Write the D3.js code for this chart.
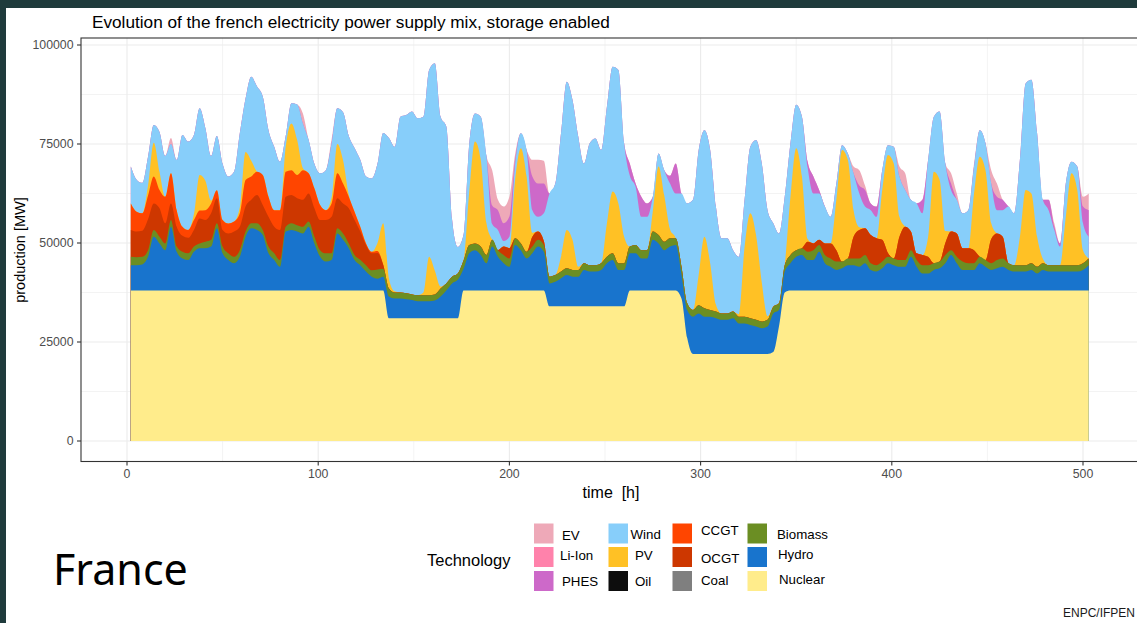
<!DOCTYPE html>
<html>
<head>
<meta charset="utf-8">
<script src="https://cdn.jsdelivr.net/npm/d3@7"></script>
<style>
  html, body { margin: 0; padding: 0; background: #1f3b3c; }
  svg { display: block; }
  text { font-family: "Liberation Sans", Arial, sans-serif; }
</style>
</head>
<body>
<svg id="chart" width="1137" height="623"></svg>
<script>
// Hourly time grid of the simulation (one sample every 3 h)
const hours = d3.range(2, 504, 3);

// Production per technology, MW
const nuclear = [
  38000,38000,38000,38000,38000,38000,38000,38000,38000,38000,38000,38000,
  38000,38000,38000,38000,38000,38000,38000,38000,38000,38000,38000,38000,
  38000,38000,38000,38000,38000,38000,38000,38000,38000,38000,38000,38000,
  38000,38000,38000,38000,38000,38000,38000,38000,38000,31000,31000,31000,
  31000,31000,31000,31000,31000,31000,31000,31000,31000,31000,38000,38000,
  38000,38000,38000,38000,38000,38000,38000,38000,38000,38000,38000,38000,
  38000,34000,34000,34000,34000,34000,34000,34000,34000,34000,34000,34000,
  34000,34000,34000,38000,38000,38000,38000,38000,38000,38000,38000,38000,
  36000,26000,22000,22000,22000,22000,22000,22000,22000,22000,22000,22000,
  22000,22000,22000,22000,22500,29000,37500,38000,38000,38000,38000,38000,
  38000,38000,38000,38000,38000,38000,38000,38000,38000,38000,38000,38000,
  38000,38000,38000,38000,38000,38000,38000,38000,38000,38000,38000,38000,
  38000,38000,38000,38000,38000,38000,38000,38000,38000,38000,38000,38000,
  38000,38000,38000,38000,38000,38000,38000,38000,38000,38000,38000,38000
];
const hydro = [
  6400,6400,6600,8500,13600,11900,10200,16100,9800,8100,7700,9800,
  10700,10700,11100,15700,9400,7700,6900,8500,13600,15700,15300,14000,
  9400,7700,6000,14900,15300,14900,14400,16100,11900,8500,7300,7700,
  14400,12800,10700,7700,6400,4800,3500,3000,3500,5500,5000,5000,
  4800,4600,4300,4300,4300,4500,5500,7000,8800,9700,5500,9400,
  10200,9000,6900,11100,8500,6900,6000,11500,10200,8100,9400,11100,
  9800,5800,6200,7100,7900,7500,7500,9200,8800,8800,9200,10900,
  11700,9200,9200,9400,9400,8100,8100,12800,11900,10200,11100,11500,
  6000,7100,9400,10200,9400,9400,9000,8600,8600,9000,7700,7700,
  7300,6900,6500,6900,9700,4100,5300,6900,8500,9000,7700,7700,
  9800,6900,6000,5200,5600,6400,6400,6000,6900,5200,4800,5600,
  6900,6400,6000,6000,8500,6000,4300,4300,5200,5600,6900,9000,
  6900,5200,5200,5200,6900,6000,5200,5600,6000,5200,4800,4800,
  4800,5200,4300,5200,4800,4800,4800,4800,4800,4800,5200,6400
];
const biomass = [
  2100,2000,1900,1700,1700,1700,1700,1700,1300,1700,1700,1300,
  1200,1600,1700,1300,1700,1700,1600,1700,1300,1300,1700,1300,
  1700,1700,1700,1200,1700,1600,1700,1300,1700,1700,2100,1700,
  1300,1600,1200,1300,1400,1600,1600,2300,2000,2000,1500,1500,
  1500,1400,1500,1500,1500,1500,2000,1800,1700,1600,2000,2100,
  1700,2100,2100,1700,1700,2100,2100,1700,1700,1700,1700,1700,
  1700,1700,1700,1700,1700,1700,1700,1700,1600,1600,1700,1600,
  1700,1700,1700,1700,2100,2100,2100,2100,2100,2100,2100,1700,
  2000,1700,1700,2100,2100,1700,1700,1600,1600,1700,1700,1700,
  1700,1700,1700,1700,1700,1700,1600,2100,1700,1700,2100,2500,
  1700,2100,2100,2100,1700,1700,1700,2100,2100,1700,1600,1700,
  1600,1700,1700,1700,1700,1700,2100,2100,1700,1700,2100,1200,
  1600,2100,1700,1700,1600,1700,1700,2100,2100,1700,1600,1600,
  1600,1700,1700,1700,1600,1600,1600,1600,1600,1600,1700,1700
];
const ocgt = [
  6800,6500,6600,7800,6700,7200,5100,4200,5000,4000,3900,4200,
  6300,5500,6700,6300,4200,5000,6400,5900,6300,5900,7100,6300,
  7500,6700,7600,7600,7100,6800,6800,7100,7200,7600,8400,9200,
  7600,7600,8900,8800,7100,5100,4300,4200,1000,0,0,0,
  0,0,0,0,0,0,0,0,0,0,0,0,
  0,0,0,0,0,2100,2600,0,0,0,2500,2100,
  1000,0,0,0,0,0,0,0,0,0,0,0,
  0,0,0,0,0,0,0,0,0,0,0,0,
  0,0,0,0,0,0,0,0,0,0,0,0,
  0,0,0,0,0,0,0,0,0,0,2500,1700,
  1300,2900,3800,2900,0,0,5500,7200,6700,7100,6800,5500,
  1000,0,5900,8400,4700,1700,2600,2100,0,0,3000,4700,
  5900,3400,3800,3300,0,0,6100,6700,5500,0,0,0,
  0,0,0,0,0,0,0,0,0,0,0,0
];
const ccgt = [
  6700,5000,4400,6000,6800,4600,6700,7600,4200,2300,2000,2500,
  2000,2500,2500,2000,2500,2500,2500,3400,6700,5900,5900,7600,
  5100,4200,5000,6300,6300,5900,7500,5100,5000,3800,2500,3400,
  6300,5000,2900,2100,1200,400,400,500,0,0,0,0,
  0,0,0,0,0,0,0,0,0,0,0,0,
  0,0,0,0,0,0,0,0,0,0,0,0,
  0,0,0,0,0,0,0,0,0,0,0,0,
  0,0,0,0,0,0,0,0,0,0,0,0,
  0,0,0,0,0,0,0,0,0,0,0,0,
  0,0,0,0,0,0,0,0,0,0,0,0,
  0,0,0,0,0,0,0,0,0,0,0,0,
  0,0,0,0,0,0,0,0,0,0,0,0,
  0,0,0,0,0,0,0,0,0,0,0,0,
  0,0,0,0,0,0,0,0,0,0,0,0
];
const pv = [
  0,0,0,2500,8500,4600,0,0,0,0,0,1500,
  9000,7400,700,0,0,0,0,1500,7100,4000,0,0,
  0,0,0,6300,11800,8800,500,0,0,0,0,1500,
  7400,5900,500,0,0,0,0,2000,10500,2500,300,0,
  0,0,0,700,9700,6000,500,0,0,0,0,13500,
  25700,21900,8000,0,0,0,0,14800,24000,19000,1000,0,
  0,0,0,3700,9700,7600,800,0,0,0,0,8500,
  15600,15100,6700,0,0,0,0,5100,17300,11700,2300,0,
  0,0,0,7700,18100,11800,1800,0,0,0,600,17600,
  26500,21400,9800,900,0,0,0,14700,25700,18100,700,0,
  0,0,0,12700,28200,24900,6700,700,0,0,0,12600,
  24700,24000,5000,0,0,0,0,5100,23100,20700,3000,0,
  0,0,0,14300,25300,22700,4000,0,0,0,0,7200,
  19000,17600,7600,1100,0,0,0,12200,23200,19000,3300,0
];
const wind = [
  9300,8100,7700,7300,4500,10000,10300,7400,12700,23200,22300,20000,
  16800,13300,11300,13700,14200,11900,12600,18700,13500,21200,21500,19800,
  16800,16000,12200,2700,5100,9000,11300,8400,6200,8000,10100,13700,
  9000,12100,14800,16100,16900,16900,18500,20000,22800,35500,36500,44400,
  45000,46200,44700,44400,47200,52400,42900,39600,14500,6700,6500,12000,
  7100,10900,17000,4000,5100,1400,2900,4000,3800,6700,5700,3700,
  7000,21000,23100,31200,37400,35300,32900,25200,30800,32000,28600,29400,
  31500,33700,23600,17900,14700,8400,8400,3700,3300,6400,11500,11300,
  18500,25200,27800,31500,26900,28600,24700,19000,19000,15500,14500,11900,
  16800,24000,30100,26800,21100,17600,17300,13500,11000,15100,18000,12600,
  11700,9300,6700,4100,1200,1600,9300,8500,5500,6300,5400,5000,
  2500,4200,10200,9300,8000,12600,10500,19400,13900,17200,17100,10500,
  8500,8800,9600,6800,6700,6800,10000,5900,6700,14300,13100,19400,
  26900,28700,26100,14900,13900,8900,4700,8400,2900,5900,6800,5500
];
const phes = [
  0,0,0,0,0,0,0,0,0,0,0,0,
  0,0,0,0,0,0,0,0,0,0,0,0,
  0,0,0,0,0,0,0,0,0,0,0,0,
  0,0,0,0,0,0,0,0,0,0,0,0,
  0,0,0,0,0,0,0,0,0,0,0,0,
  0,0,0,4700,5000,4500,5100,1000,0,0,8500,8400,
  7500,0,0,0,0,0,0,0,0,0,0,0,
  0,0,0,3000,800,5100,3400,0,0,0,2000,7600,
  0,0,0,0,0,0,0,0,0,0,0,0,
  0,0,0,0,0,0,0,0,0,0,1500,4300,
  900,0,0,0,0,0,0,2000,4200,1700,2600,0,
  0,0,0,0,0,0,3400,0,0,0,0,1600,
  0,0,0,0,0,0,0,3400,2600,0,0,0,
  0,0,0,0,2600,800,800,0,0,0,4200,6700
];
const ev = [
  0,0,0,0,0,0,0,1500,0,0,0,0,
  0,0,0,0,0,0,0,0,0,0,0,0,
  0,0,0,0,0,0,2500,0,0,0,0,1000,
  0,0,0,0,0,0,0,0,0,0,0,0,
  0,0,0,0,0,0,0,0,0,0,0,0,
  0,0,0,8900,2600,4200,5000,1500,0,0,4200,6000,
  5800,0,0,0,0,0,0,0,0,0,0,0,
  0,0,0,0,0,0,0,0,0,0,0,0,
  0,0,0,0,0,0,0,0,0,0,0,0,
  0,0,0,0,0,0,0,0,0,0,0,0,
  0,0,0,0,0,0,1700,3900,1100,0,0,0,
  0,0,2500,4200,0,0,0,0,0,0,0,2600,
  1600,0,0,700,0,0,3400,3300,0,0,0,0,
  0,0,0,0,0,900,0,0,0,0,2500,4200
];

// Legend order (column-wise) and stacking order (bottom to top)
const technologies = ["EV", "Li-Ion", "PHES", "Wind", "PV", "Oil",
                      "CCGT", "OCGT", "Coal", "Biomass", "Hydro", "Nuclear"];
const stackOrder = technologies.slice().reverse();
const production = {
  Nuclear: nuclear, Hydro: hydro, Biomass: biomass, OCGT: ocgt, CCGT: ccgt,
  PV: pv, Wind: wind, PHES: phes, EV: ev
};
const colors = {
  "EV": "#eea9b8", "Li-Ion": "#ff82ab", "PHES": "#cd69c9",
  "Wind": "#87cefa", "PV": "#ffc125", "Oil": "#0d0d0d",
  "CCGT": "#ff4500", "OCGT": "#cd3700", "Coal": "#7f7f7f",
  "Biomass": "#6b8e23", "Hydro": "#1874cd", "Nuclear": "#ffec8b"
};

const xTicks = [0, 100, 200, 300, 400, 500];
const xMinor = [50, 150, 250, 350, 450];
const yTicks = [0, 25000, 50000, 75000, 100000];
const yMinor = [12500, 37500, 62500, 87500];

const svg = d3.select("#chart");
const W = 1137, H = 623;

// framed white canvas
svg.append("rect").attr("width", W).attr("height", H).attr("fill", "#1f3b3c");
svg.append("rect").attr("x", 6).attr("y", 8).attr("width", W - 6).attr("height", H - 8).attr("fill", "#ffffff");

const panel = { left: 81, top: 38, right: 1141, bottom: 461.5 };
const x = d3.scaleLinear().domain([0, 500]).range([127, 1083]);
const y = d3.scaleLinear().domain([0, 100000]).range([441, 45]);

svg.append("defs").append("clipPath").attr("id", "panel-clip")
  .append("rect")
  .attr("x", panel.left).attr("y", panel.top)
  .attr("width", panel.right - panel.left).attr("height", panel.bottom - panel.top);

const plot = svg.append("g").attr("clip-path", "url(#panel-clip)");

// grid
plot.selectAll("line.xminor").data(xMinor).join("line")
  .attr("x1", d => x(d)).attr("x2", d => x(d))
  .attr("y1", panel.top).attr("y2", panel.bottom)
  .attr("stroke", "#ebebeb").attr("stroke-width", 0.6);
plot.selectAll("line.yminor").data(yMinor).join("line")
  .attr("y1", d => y(d)).attr("y2", d => y(d))
  .attr("x1", panel.left).attr("x2", panel.right)
  .attr("stroke", "#ebebeb").attr("stroke-width", 0.6);
plot.selectAll("line.xmajor").data(xTicks).join("line")
  .attr("x1", d => x(d)).attr("x2", d => x(d))
  .attr("y1", panel.top).attr("y2", panel.bottom)
  .attr("stroke", "#ebebeb").attr("stroke-width", 1.1);
plot.selectAll("line.ymajor").data(yTicks).join("line")
  .attr("y1", d => y(d)).attr("y2", d => y(d))
  .attr("x1", panel.left).attr("x2", panel.right)
  .attr("stroke", "#ebebeb").attr("stroke-width", 1.1);

// stacked production
const keys = stackOrder.filter(k => production[k]);
const rows = hours.map((h, i) => {
  const r = { hour: h };
  keys.forEach(k => { r[k] = production[k][i]; });
  return r;
});
const layers = d3.stack().keys(keys)(rows);

// each layer is filled from zero up to its cumulative top; upper layers are
// painted first so the lower ones cover them without seams
const area = d3.area()
  .x(d => x(d.data.hour))
  .y0(y(0))
  .y1(d => y(d[1]))
  .curve(d3.curveMonotoneX);

plot.selectAll("path.layer").data(layers.slice().reverse()).join("path")
  .attr("class", "layer")
  .attr("fill", d => colors[d.key])
  .attr("d", area);

// panel border
svg.append("rect")
  .attr("x", panel.left).attr("y", panel.top)
  .attr("width", panel.right - panel.left).attr("height", panel.bottom - panel.top)
  .attr("fill", "none").attr("stroke", "#333333").attr("stroke-width", 1.1);

// axes ticks and labels
svg.selectAll("line.ytick").data(yTicks).join("line")
  .attr("x1", 77).attr("x2", panel.left)
  .attr("y1", d => y(d)).attr("y2", d => y(d))
  .attr("stroke", "#333333").attr("stroke-width", 1.1);
svg.selectAll("text.ylab").data(yTicks).join("text")
  .attr("x", 73.5).attr("y", d => y(d) + 4.4)
  .attr("text-anchor", "end").attr("font-size", 12.3).attr("fill", "#4d4d4d")
  .text(d => d);

svg.selectAll("line.xtick").data(xTicks).join("line")
  .attr("x1", d => x(d)).attr("x2", d => x(d))
  .attr("y1", panel.bottom).attr("y2", panel.bottom + 4)
  .attr("stroke", "#333333").attr("stroke-width", 1.1);
svg.selectAll("text.xlab").data(xTicks).join("text")
  .attr("x", d => x(d)).attr("y", 478)
  .attr("text-anchor", "middle").attr("font-size", 12.3).attr("fill", "#4d4d4d")
  .text(d => d);

// titles
svg.append("text").attr("x", 92).attr("y", 28)
  .attr("font-size", 17.2).attr("fill", "#000")
  .text("Evolution of the french electricity power supply mix, storage enabled");

svg.append("text").attr("x", 611).attr("y", 498)
  .attr("text-anchor", "middle").attr("font-size", 16).attr("fill", "#000")
  .style("white-space", "pre")
  .text("time  [h]");

svg.append("text")
  .attr("transform", "translate(25,250) rotate(-90)")
  .attr("text-anchor", "middle").attr("font-size", 14.5).attr("fill", "#000")
  .text("production [MW]");

// legend
const legendCols = [534, 608.5, 672.5, 747.5];
const legendRows = [523.5, 547, 571];
const labelPos = {
  "EV": [562, 540], "Li-Ion": [560, 560], "PHES": [562, 586],
  "Wind": [630.5, 539], "PV": [635, 560], "Oil": [635, 586],
  "CCGT": [701, 535], "OCGT": [701, 562.5], "Coal": [701, 585],
  "Biomass": [777, 539], "Hydro": [778, 558.5], "Nuclear": [779, 584]
};

svg.append("text").attr("x", 427).attr("y", 565.5)
  .attr("font-size", 16.5).attr("fill", "#000").text("Technology");

const legend = svg.append("g");
technologies.forEach((t, i) => {
  const col = Math.floor(i / 3), row = i % 3;
  legend.append("rect")
    .attr("x", legendCols[col]).attr("y", legendRows[row])
    .attr("width", 19.5).attr("height", 20)
    .attr("fill", colors[t]);
  legend.append("text")
    .attr("x", labelPos[t][0]).attr("y", labelPos[t][1])
    .attr("font-size", 13.3).attr("fill", "#000")
    .text(t);
});

// caption and credit
svg.append("text").attr("x", 53).attr("y", 585)
  .attr("font-size", 43).attr("fill", "#000")
  .style("font-family", "'Noto Sans', 'Open Sans', sans-serif")
  .text("France");

svg.append("text").attr("x", 1063).attr("y", 617)
  .attr("font-size", 12).attr("fill", "#1a1a1a")
  .text("ENPC/IFPEN");
</script>
</body>
</html>
